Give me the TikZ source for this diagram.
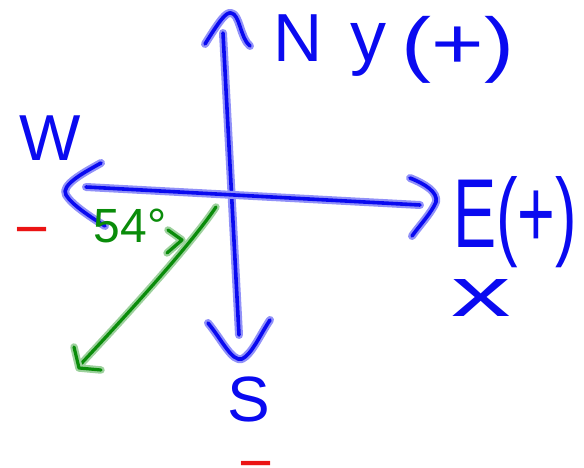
\documentclass[tikz,border=0pt]{standalone}
\usepackage{fontspec}
\setmainfont{Liberation Sans}
\definecolor{penblue}{RGB}{10,10,240}
\definecolor{pengreen}{RGB}{10,140,10}
\definecolor{penred}{RGB}{235,20,20}
\tikzset{
  bluepen/.style={draw=penblue, line width=3.6, line cap=round, line join=round,
    preaction={draw=penblue!45, line width=8, line cap=round, line join=round}},
  greenpen/.style={draw=pengreen, line width=3.2, line cap=round, line join=round,
    preaction={draw=pengreen!40, line width=7.5, line cap=round, line join=round}},
  lbl/.style={inner sep=0pt, text=penblue},
  redlbl/.style={inner sep=0pt, text=penred, font=\fontsize{60}{60}\selectfont,
    text height=4pt, text depth=0pt},
}
\newcommand{\lowminus}{\raisebox{-19pt}{−}}
\begin{document}
\begin{tikzpicture}[x=1pt,y=-1pt]
\useasboundingbox (0,0) rectangle (584,468);
% axis end points
\coordinate (ntop) at (223,33);
\coordinate (sbot) at (239,335);
\coordinate (wend) at (86,187);
\coordinate (eend) at (420,205);
\coordinate (gstart) at (216,207);
\coordinate (gend) at (79,366);
% axes
\draw[bluepen] (sbot) -- (ntop);
\draw[bluepen] (wend) -- (eend);
% arrowheads
\draw[bluepen] (205,44) .. controls (220,20) and (226,12) .. (231,13) .. controls (240,14) and (240,38) .. (250,46);
\draw[bluepen] (208,323) .. controls (222,340) and (232,362) .. (242,359) .. controls (252,354) and (260,335) .. (270,320);
\draw[bluepen] (101,163) .. controls (85,172) and (60,185) .. (66,195) .. controls (72,205) and (92,218) .. (105,226);
\draw[bluepen] (410,178) .. controls (425,184) and (438,192) .. (436,202) .. controls (432,212) and (420,225) .. (412,236);
% green arrow
\draw[greenpen] (gstart) .. controls (195,238) and (150,290) .. (gend);
\draw[greenpen] (74,347) -- (79,368) -- (101,370);
\draw[greenpen] (168,230) -- (182,240) -- (167,253);
% labels
\node[lbl, font=\fontsize{68}{68}\selectfont] (N) at (298,38) {N};
\node[lbl, font=\fontsize{72}{72}\selectfont] (Y) at (368,50) {y};
\node[lbl, font=\fontsize{72}{72}\selectfont] (YP) at (458,50) {\scalebox{1.25}[1]{(+)}};
\node[lbl, font=\fontsize{65}{65}\selectfont] (W) at (50,138) {W};
\node[lbl, font=\fontsize{98}{98}\selectfont] (E) at (515,222) {\scalebox{0.66}[1]{E(+)}};
\node[lbl, font=\fontsize{70}{70}\selectfont] (X) at (481,298) {\scalebox{1.7}[1]{x}};
\node[lbl, font=\fontsize{64}{64}\selectfont] (S) at (249,399) {S};
\node[inner sep=0pt, text=pengreen, font=\fontsize{48}{48}\selectfont] (ang) at (130,226) {54°};
\node[redlbl] (m1) at (32,228) {\lowminus};
\node[redlbl] (m2) at (256,462) {\lowminus};
\end{tikzpicture}
\end{document}
